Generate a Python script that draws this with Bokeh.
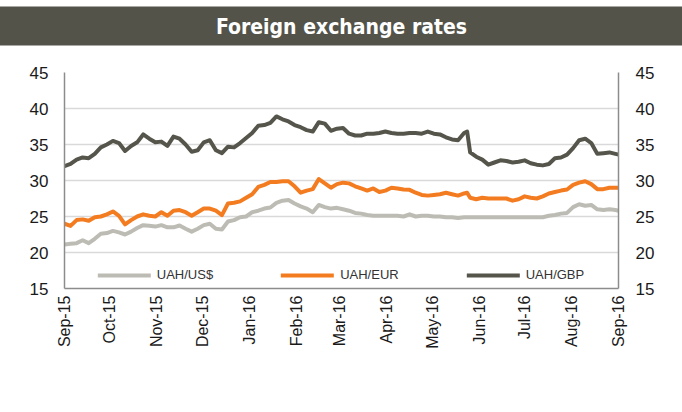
import math
import pandas as pd
from bokeh.plotting import figure
from bokeh.models import (ColumnDataSource, Range1d, LinearAxis, FixedTicker,
                          DatetimeTickFormatter, Legend, LegendItem, Title)
from bokeh.embed import file_html
from bokeh.resources import INLINE

# ---------------- data ----------------
dates = [
    "2015-09-01", "2015-09-05", "2015-09-09", "2015-09-13", "2015-09-17", "2015-09-21", "2015-09-25", "2015-09-29",
    "2015-10-03", "2015-10-07", "2015-10-11", "2015-10-15", "2015-10-19", "2015-10-23", "2015-10-27", "2015-10-31",
    "2015-11-04", "2015-11-08", "2015-11-12", "2015-11-16", "2015-11-20", "2015-11-24", "2015-11-28",
    "2015-12-02", "2015-12-06", "2015-12-10", "2015-12-14", "2015-12-18", "2015-12-22", "2015-12-26", "2015-12-30",
    "2016-01-03", "2016-01-07", "2016-01-11", "2016-01-15", "2016-01-19", "2016-01-23", "2016-01-27", "2016-01-31",
    "2016-02-04", "2016-02-08", "2016-02-12", "2016-02-16", "2016-02-20", "2016-02-24", "2016-02-28",
    "2016-03-03", "2016-03-07", "2016-03-11", "2016-03-15", "2016-03-19", "2016-03-23", "2016-03-27", "2016-03-31",
    "2016-04-04", "2016-04-08", "2016-04-12", "2016-04-16", "2016-04-20", "2016-04-24", "2016-04-28",
    "2016-05-02", "2016-05-06", "2016-05-10", "2016-05-14", "2016-05-18", "2016-05-22", "2016-05-24", "2016-05-26",
    "2016-05-30",
    "2016-06-03", "2016-06-07", "2016-06-11", "2016-06-15", "2016-06-19", "2016-06-23", "2016-06-27",
    "2016-07-01", "2016-07-05", "2016-07-09", "2016-07-13", "2016-07-17", "2016-07-21", "2016-07-25", "2016-07-29",
    "2016-08-02", "2016-08-06", "2016-08-10", "2016-08-14", "2016-08-18", "2016-08-22", "2016-08-26", "2016-08-30",
    "2016-09-01",
]

uah_usd = [
    21.1, 21.2, 21.3, 21.7, 21.3, 21.9, 22.6, 22.7,
    23.0, 22.8, 22.5, 22.9, 23.4, 23.8, 23.7, 23.6,
    23.8, 23.5, 23.5, 23.75, 23.3, 22.9, 23.3,
    23.8, 24.0, 23.3, 23.2, 24.3, 24.5, 24.9, 25.0,
    25.6, 25.8, 26.1, 26.25, 26.9, 27.2, 27.3, 26.8,
    26.4, 26.1, 25.6, 26.6, 26.3, 26.1, 26.2,
    26.0, 25.8, 25.5, 25.4, 25.2, 25.1, 25.1, 25.1,
    25.1, 25.1, 25.0, 25.3, 25.0, 25.1, 25.1,
    25.0, 25.0, 24.9, 24.9, 24.8, 24.9, 24.9, 24.9,
    24.9,
    24.9, 24.9, 24.9, 24.9, 24.9, 24.9, 24.9,
    24.9, 24.9, 24.9, 24.9, 25.1, 25.2, 25.4, 25.5,
    26.3, 26.7, 26.5, 26.6, 26.0, 25.9, 26.0, 25.9,
    25.8,
]

uah_eur = [
    24.0, 23.7, 24.5, 24.6, 24.4, 24.9, 25.0, 25.3,
    25.7, 25.1, 23.9, 24.5, 25.0, 25.3, 25.1, 25.0,
    25.6, 25.1, 25.8, 25.9, 25.6, 25.1, 25.6,
    26.1, 26.1, 25.8, 25.2, 26.8, 26.9, 27.1, 27.6,
    28.1, 29.1, 29.4, 29.8, 29.8, 29.9, 29.9, 29.2,
    28.3, 28.6, 28.8, 30.2, 29.6, 29.0, 29.5,
    29.7, 29.6, 29.2, 28.9, 28.6, 28.9, 28.4, 28.6,
    29.0, 28.9, 28.75, 28.7, 28.3, 28.0, 27.9,
    28.0, 28.1, 28.3, 28.1, 27.9, 28.2, 28.3, 27.6,
    27.4,
    27.6, 27.5, 27.5, 27.5, 27.5, 27.2, 27.4,
    27.8, 27.6, 27.5, 27.8, 28.2, 28.4, 28.6, 28.75,
    29.4, 29.7, 29.9, 29.5, 28.8, 28.8, 29.0, 29.0,
    29.0,
]

uah_gbp = [
    32.0, 32.3, 32.9, 33.2, 33.1, 33.7, 34.6, 35.0,
    35.5, 35.2, 34.1, 34.8, 35.3, 36.4, 35.8, 35.3,
    35.4, 34.8, 36.1, 35.8, 35.0, 34.0, 34.2,
    35.3, 35.6, 34.2, 33.8, 34.7, 34.6, 35.2, 35.9,
    36.6, 37.6, 37.7, 38.0, 38.9, 38.5, 38.2, 37.7,
    37.4, 37.0, 36.8, 38.1, 37.9, 36.9, 37.2,
    37.3, 36.5, 36.25, 36.25, 36.5, 36.5, 36.6, 36.8,
    36.6, 36.5, 36.5, 36.6, 36.6, 36.5, 36.8,
    36.5, 36.4, 36.0, 35.7, 35.6, 36.6, 36.8, 33.9,
    33.3,
    32.9, 32.2, 32.5, 32.8, 32.7, 32.5, 32.6,
    32.8, 32.4, 32.2, 32.1, 32.3, 33.1, 33.2, 33.6,
    34.5, 35.6, 35.8, 35.2, 33.7, 33.8, 33.9, 33.7,
    33.6,
]

series_names = ["UAH/US$", "UAH/EUR", "UAH/GBP"]
series_colors = ["#bdbcb4", "#f47c20", "#55554b"]

month_ticks = ["2015-09-01", "2015-10-01", "2015-11-01", "2015-12-01", "2016-01-01",
               "2016-02-01", "2016-03-01", "2016-04-01", "2016-05-01", "2016-06-01",
               "2016-07-01", "2016-08-01", "2016-09-01"]
y_ticks = [15, 20, 25, 30, 35, 40, 45]
title_text = "Foreign exchange rates"

assert len(dates) == len(uah_usd) == len(uah_eur) == len(uah_gbp)

FONT_S = "'Liberation Sans', Arial, sans-serif"
TITLE_FONT = "'Liberation Sans Narrow', 'DejaVu Sans Condensed', 'Liberation Sans', sans-serif"
bar_color = "#54534a"

# ---------------- main chart ----------------
dt = pd.to_datetime(dates)
src = ColumnDataSource(dict(date=dt, usd=uah_usd, eur=uah_eur, gbp=uah_gbp))
tick_ms = [pd.Timestamp(d).value / 1e6 for d in month_ticks]

p = figure(frame_width=554, frame_height=216, output_backend="svg", toolbar_location=None,
           x_axis_type="datetime",
           x_range=Range1d(pd.Timestamp(month_ticks[0]), pd.Timestamp(month_ticks[-1])),
           y_range=Range1d(y_ticks[0], y_ticks[-1]),
           min_border_left=64, min_border_right=64, min_border_top=72, min_border_bottom=100)
p.outline_line_color = None
p.background_fill_color = "white"
p.border_fill_color = "white"

# title bar (wide padding so that the box spans the whole canvas)
title = Title(text=title_text, align="center", text_color="white", text_font=TITLE_FONT,
              text_font_size="21px", text_font_style="bold",
              background_fill_color=bar_color, border_line_color=None,
              padding=dict(left=400, right=400, top=8, bottom=7), standoff=4)
p.title = title
# blank gap between the title bar and the plot frame
p.add_layout(Title(text=" ", text_font_size="1px", standoff=22), "above")

renderers = []
for col, color in zip(["usd", "eur", "gbp"], series_colors):
    r = p.line("date", col, source=src, line_color=color, line_width=4,
               line_join="round", line_cap="round")
    renderers.append(r)

# grid
p.xgrid.visible = False
p.ygrid.ticker = FixedTicker(ticks=y_ticks)
p.ygrid.grid_line_color = "#d9d9d9"
p.ygrid.grid_line_width = 1.5

axis_col = "#8c8c8c"


def style_axis(ax, standoff, size):
    ax.axis_line_color = axis_col
    ax.axis_line_width = 1.5
    ax.major_tick_line_color = None
    ax.minor_tick_line_color = None
    ax.major_tick_out = 0
    ax.major_tick_in = 0
    ax.major_label_standoff = standoff
    ax.major_label_text_font = FONT_S
    ax.major_label_text_font_size = size
    ax.major_label_text_color = "#1a1a1a"


yl = p.yaxis[0]
yl.ticker = FixedTicker(ticks=y_ticks)
style_axis(yl, 16, "17px")

yr = LinearAxis(ticker=FixedTicker(ticks=y_ticks))
style_axis(yr, 17, "17px")
p.add_layout(yr, "right")

xa = p.xaxis[0]
xa.ticker = FixedTicker(ticks=tick_ms)
fmt = "%b-%y"
xa.formatter = DatetimeTickFormatter(days=fmt, months=fmt, years=fmt)
xa.major_label_orientation = math.pi / 2
style_axis(xa, 7, "16px")

# legend: kept inside the frame, in the empty band below 20, so that it stays visible
legend = Legend(items=[LegendItem(label=n, renderers=[r]) for n, r in zip(series_names, renderers)],
                orientation="horizontal", location="bottom_center")
legend.border_line_color = None
legend.background_fill_alpha = 0
legend.label_text_font = FONT_S
legend.label_text_font_size = "13px"
legend.label_text_color = "#333333"
legend.glyph_width = 53
legend.glyph_height = 14
legend.label_height = 14
legend.label_standoff = 6
legend.spacing = 68
legend.padding = 2
legend.margin = 6
p.add_layout(legend, "center")

open("out.html", "w").write(file_html(p, INLINE))
